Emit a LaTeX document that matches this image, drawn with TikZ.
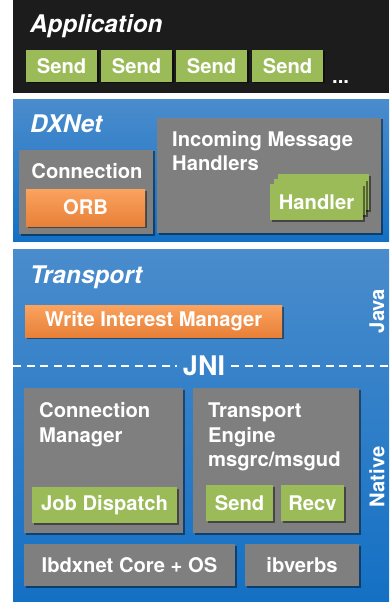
\documentclass[tikz,border=0pt]{standalone}
\usepackage{fontspec}
\setmainfont{TeX Gyre Heros}
\usetikzlibrary{shadows}
\definecolor{appblack}{RGB}{28,28,28}
\definecolor{boxgreen}{RGB}{155,187,89}
\definecolor{boxgrey}{RGB}{127,127,127}
\definecolor{orangetop}{RGB}{250,163,95}
\definecolor{orangebot}{RGB}{232,128,56}
\definecolor{bluetop}{RGB}{74,140,204}
\definecolor{bluebot}{RGB}{20,112,196}
\newcommand\myBody{\fontsize{20.2bp}{24.5bp}\selectfont\bfseries}
\newcommand\myTitle{\fontsize{24.3bp}{28bp}\selectfont\bfseries\itshape}
\newcommand\myJNI{\fontsize{27bp}{30bp}\selectfont\bfseries}
\tikzset{
  box/.style={anchor=north west, inner sep=0pt, outer sep=0pt, text=white, font=\myBody},
  shd/.style={drop shadow={shadow xshift=1.5bp, shadow yshift=-1.5bp, opacity=0.45, fill=black}},
  greenbox/.style={box, fill=boxgreen, shd},
  greybox/.style={box, fill=boxgrey, shd},
  orangebox/.style={box, top color=orangetop, bottom color=orangebot, shd},
  layer/.style={box, top color=bluetop, bottom color=bluebot},
  title/.style={anchor=base west, inner sep=0pt, text=white, font=\myTitle},
  label/.style={anchor=base west, inner sep=0pt, text=white, font=\myBody},
  side/.style={inner sep=0pt, text=white, font=\myBody, rotate=90},
  jnidash/.style={white, line width=2bp, dash pattern=on 8bp off 5.5bp}
}
\begin{document}
\begin{tikzpicture}[x=1bp,y=-1bp]
\useasboundingbox (0,0) rectangle (389,602);
% Application layer
\node[box, fill=appblack, minimum width=376bp, minimum height=93bp] (app) at (13,0) {};
\node[title] (apptitle) at (30,33) {Application};
\node[greenbox, minimum width=71bp, minimum height=32bp] (s1) at (26,50) {Send};
\node[greenbox, minimum width=71bp, minimum height=32bp] (s2) at (101,50) {Send};
\node[greenbox, minimum width=71bp, minimum height=32bp] (s3) at (176,50) {Send};
\node[greenbox, minimum width=71bp, minimum height=32bp] (s4) at (252,50) {Send};
\node[label] (dots) at (332,84) {...};
% DXNet layer
\node[layer, minimum width=376bp, minimum height=141bp] (dxnet) at (13,100) {};
\node[title] (dxtitle) at (30,133) {DXNet};
\node[greybox, minimum width=134bp, minimum height=84bp] (conn) at (19,150) {};
\node[label, anchor=base] (conntext) at (87,179) {Connection};
\node[orangebox, minimum width=119bp, minimum height=37bp] (orb) at (26,189) {ORB};
\node[greybox, minimum width=224bp, minimum height=115bp] (imh) at (157,118) {};
\node[label] (imh1) at (172,147) {Incoming Message};
\node[label] (imh2) at (172,171) {Handlers};
\node[box, fill=boxgreen, shd, minimum width=91bp, minimum height=36bp] (h3) at (278,174) {};
\node[box, fill=boxgreen, shd, minimum width=92bp, minimum height=36bp] (h2) at (274,179) {};
\node[greenbox, minimum width=93bp, minimum height=36bp] (h1) at (270,184) {Handler};
% Transport layer
\node[layer, minimum width=376bp, minimum height=352bp] (transport) at (13,249) {};
\node[title] (trtitle) at (30,283) {Transport};
\node[orangebox, minimum width=257bp, minimum height=32bp] (wim) at (25,305) {Write Interest Manager};
\node[side] (java) at (377,311) {Java};
\node[inner sep=0pt, text=white, font=\myJNI] (jni) at (204,365.5) {JNI};
\coordinate (dl) at (13,365.5);
\coordinate (dr) at (389,365.5);
\draw[jnidash] (dl) -- ([xshift=-6bp]jni.west);
\draw[jnidash] ([xshift=6bp]jni.east) -- (dr);
\node[greybox, minimum width=159bp, minimum height=145bp] (cm) at (24,388) {};
\node[label] (cm1) at (39,417) {Connection};
\node[label] (cm2) at (39,442) {Manager};
\node[greenbox, minimum width=145bp, minimum height=36bp] (jd) at (32,487) {Job Dispatch};
\node[greybox, minimum width=166bp, minimum height=145bp] (te) at (193,388) {};
\node[label] (te1) at (208,417) {Transport};
\node[label] (te2) at (208,442) {Engine};
\node[label] (te3) at (208,466) {msgrc/msgud};
\node[greenbox, minimum width=67bp, minimum height=36bp] (tsend) at (206,485) {Send};
\node[greenbox, minimum width=63bp, minimum height=36bp] (trecv) at (281,485) {Recv};
\node[side] (native) at (377,477) {Native};
\node[greybox, minimum width=211bp, minimum height=42bp] (core) at (24,544) {Ibdxnet Core + OS};
\node[greybox, minimum width=114bp, minimum height=42bp] (ibv) at (245,544) {ibverbs};
\end{tikzpicture}
\end{document}
